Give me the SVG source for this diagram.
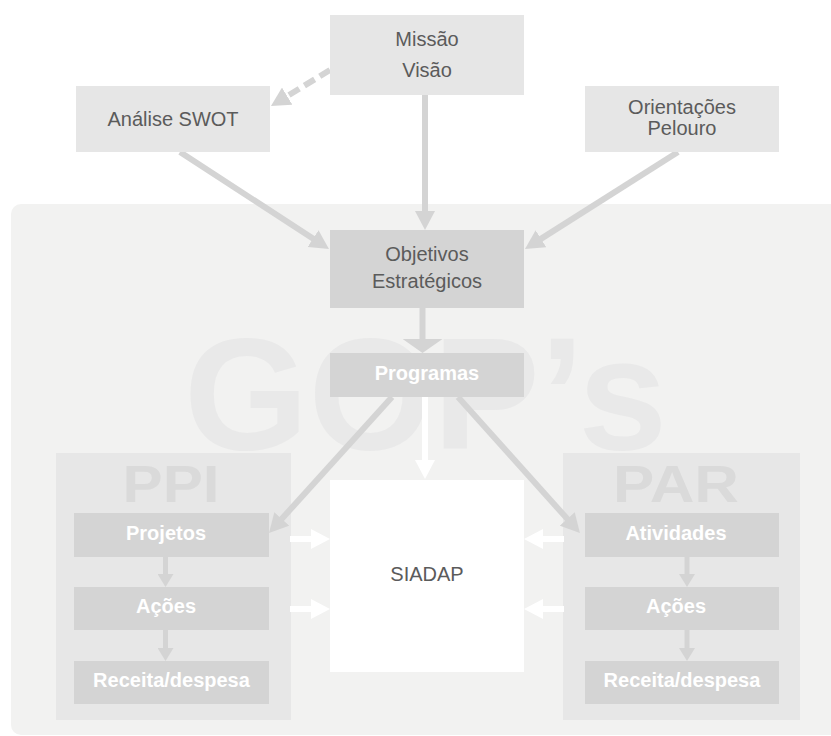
<svg xmlns="http://www.w3.org/2000/svg" width="831" height="736" viewBox="0 0 831 736">
<style>
.t{font-family:"Liberation Sans",Arial,sans-serif;font-size:20px;fill:#5b5b5b;text-anchor:middle}
.b{font-family:"Liberation Sans",Arial,sans-serif;font-size:20px;font-weight:bold;fill:#ffffff;text-anchor:middle}
.big{font-family:"Liberation Sans",Arial,sans-serif;font-weight:bold;text-anchor:middle}
.lt{fill:#e6e6e6}
.dk{fill:#d4d4d4}
.ln{stroke:#d4d4d4;stroke-width:6;fill:none}
.wl{stroke:#ffffff;stroke-width:6;fill:none}
.sl{stroke:#d4d4d4;stroke-width:5;fill:none}
</style>
<defs>
<marker id="g" viewBox="0 0 19 20" refX="9" refY="10" markerWidth="19" markerHeight="20" markerUnits="userSpaceOnUse" orient="auto"><path d="M0,0 L19,10 L0,20 Z" fill="#d4d4d4"/></marker>
<marker id="w" viewBox="0 0 19 20" refX="9" refY="10" markerWidth="19" markerHeight="20" markerUnits="userSpaceOnUse" orient="auto"><path d="M0,0 L19,10 L0,20 Z" fill="#ffffff"/></marker>
<marker id="gb" viewBox="0 0 14 40" refX="10" refY="20" markerWidth="14" markerHeight="40" markerUnits="userSpaceOnUse" orient="auto"><path d="M0,0 L14,20 L0,40 Z" fill="#d4d4d4"/></marker>
<marker id="s" viewBox="0 0 13 16" refX="6" refY="8" markerWidth="13" markerHeight="16" markerUnits="userSpaceOnUse" orient="auto"><path d="M0,0 L13,8 L0,16 Z" fill="#d4d4d4"/></marker>
</defs>
<rect width="831" height="736" fill="#ffffff"/>
<g id="gops">
<rect x="11" y="204" width="840" height="531" rx="10" fill="#f2f2f1"/>
<text class="big" x="184" y="449" font-size="160" fill="#e9e9e9" style="text-anchor:start">GOP’s</text>
</g>
<g id="ppi">
<rect x="56" y="453" width="235" height="267" fill="#e7e7e7"/>
<text class="big" x="171" y="502" font-size="52" fill="#dadada" textLength="97" lengthAdjust="spacingAndGlyphs">PPI</text>
</g>
<g id="par">
<rect x="563" y="453" width="237" height="267" fill="#e7e7e7"/>
<text class="big" x="676" y="502" font-size="52" fill="#dadada" textLength="126" lengthAdjust="spacingAndGlyphs">PAR</text>
</g>
<g id="connectors">
<line class="ln" x1="330" y1="70" x2="279.5" y2="100.8" stroke-width="7" stroke-dasharray="12 6" marker-end="url(#g)"/>
<line class="ln" x1="425" y1="95" x2="425" y2="220" marker-end="url(#g)"/>
<line class="ln" x1="180" y1="152" x2="320.6" y2="243.5" marker-end="url(#g)"/>
<line class="ln" x1="678" y1="152" x2="533.4" y2="243.6" marker-end="url(#g)"/>
<line class="ln" x1="422.5" y1="308" x2="422.5" y2="349" stroke-width="11" marker-end="url(#gb)"/>
<line class="ln" x1="392" y1="397" x2="275.7" y2="525.6" marker-end="url(#g)"/>
<line class="ln" x1="458" y1="397" x2="573.3" y2="525.6" marker-end="url(#g)"/>
<line class="wl" x1="425" y1="397" x2="425" y2="469" marker-end="url(#w)"/>
<line class="wl" x1="290" y1="539" x2="320" y2="539" marker-end="url(#w)"/>
<line class="wl" x1="290" y1="609" x2="320" y2="609" marker-end="url(#w)"/>
<line class="wl" x1="564" y1="539" x2="534" y2="539" marker-end="url(#w)"/>
<line class="wl" x1="564" y1="609" x2="534" y2="609" marker-end="url(#w)"/>
<line class="sl" x1="165.5" y1="557" x2="165.5" y2="580" marker-end="url(#s)"/>
<line class="sl" x1="165.5" y1="630" x2="165.5" y2="654" marker-end="url(#s)"/>
<line class="sl" x1="687" y1="557" x2="687" y2="580" marker-end="url(#s)"/>
<line class="sl" x1="687" y1="630" x2="687" y2="654" marker-end="url(#s)"/>
</g>
<g id="missao"><rect class="lt" x="330" y="15" width="194" height="80"/><text class="t" x="427" y="46">Missão</text><text class="t" x="427" y="77">Visão</text></g>
<g id="swot"><rect class="lt" x="76" y="86" width="194" height="66"/><text class="t" x="173" y="126">Análise SWOT</text></g>
<g id="orientacoes"><rect class="lt" x="585" y="86" width="194" height="66"/><text class="t" x="682" y="113.5">Orientações</text><text class="t" x="682" y="135">Pelouro</text></g>
<g id="objetivos"><rect class="dk" x="330" y="230" width="194" height="78"/><text class="t" x="427" y="261">Objetivos</text><text class="t" x="427" y="288">Estratégicos</text></g>
<g id="programas"><rect class="dk" x="330" y="353" width="194" height="44"/><text class="b" x="427" y="380">Programas</text></g>
<g id="siadap"><rect x="330" y="480" width="194" height="192" fill="#ffffff"/><text class="t" x="427" y="580.5">SIADAP</text></g>
<g id="projetos"><rect class="dk" x="74" y="513" width="195" height="44"/><text class="b" x="166" y="540">Projetos</text></g>
<g id="acoes1"><rect class="dk" x="74" y="587" width="195" height="43"/><text class="b" x="166" y="613">Ações</text></g>
<g id="receita1"><rect class="dk" x="74" y="661" width="195" height="43"/><text class="b" x="171.5" y="687">Receita/despesa</text></g>
<g id="atividades"><rect class="dk" x="585" y="513" width="194" height="44"/><text class="b" x="676" y="540">Atividades</text></g>
<g id="acoes2"><rect class="dk" x="585" y="587" width="194" height="43"/><text class="b" x="676" y="613">Ações</text></g>
<g id="receita2"><rect class="dk" x="585" y="661" width="194" height="43"/><text class="b" x="682" y="687">Receita/despesa</text></g>
</svg>
